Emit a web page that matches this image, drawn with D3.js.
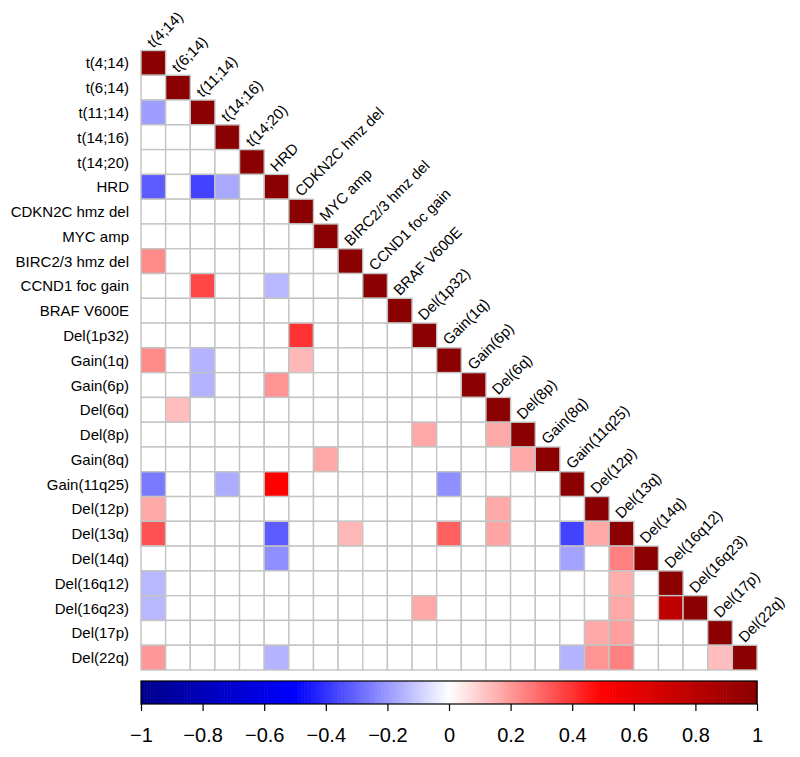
<!DOCTYPE html>
<html>
<head>
<meta charset="utf-8">
<script src="https://cdn.jsdelivr.net/npm/d3@7"></script>
<style>
  html, body { margin: 0; padding: 0; background: #ffffff; }
  svg { display: block; }
  text { font-family: "Liberation Sans", Arial, sans-serif; fill: #000; }
</style>
</head>
<body>
<svg id="chart" width="800" height="757"></svg>
<script>
const labels = [
  "t(4;14)", "t(6;14)", "t(11;14)", "t(14;16)", "t(14;20)", "HRD",
  "CDKN2C hmz del", "MYC amp", "BIRC2/3 hmz del", "CCND1 foc gain", "BRAF V600E",
  "Del(1p32)", "Gain(1q)", "Gain(6p)", "Del(6q)", "Del(8p)", "Gain(8q)",
  "Gain(11q25)", "Del(12p)", "Del(13q)", "Del(14q)", "Del(16q12)", "Del(16q23)",
  "Del(17p)", "Del(22q)"
];

// lower triangle of the correlation matrix (row i has i+1 values)
const corrLower = [
  [1],
  [0, 1],
  [-0.19, 0, 1],
  [0, 0, 0, 1],
  [0, 0, 0, 0, 1],
  [-0.32, 0, -0.37, -0.17, 0, 1],
  [0, 0, 0, 0, 0, 0, 1],
  [0, 0, 0, 0, 0, 0, 0, 1],
  [0.23, 0, 0, 0, 0, 0, 0, 0, 1],
  [0, 0, 0.36, 0, 0, -0.14, 0, 0, 0, 1],
  [0, 0, 0, 0, 0, 0, 0, 0, 0, 0, 1],
  [0, 0, 0, 0, 0, 0, 0.4, 0, 0, 0, 0, 1],
  [0.23, 0, -0.15, 0, 0, 0, 0.14, 0, 0, 0, 0, 0, 1],
  [0, 0, -0.15, 0, 0, 0.21, 0, 0, 0, 0, 0, 0, 0, 1],
  [0, 0.13, 0, 0, 0, 0, 0, 0, 0, 0, 0, 0, 0, 0, 1],
  [0, 0, 0, 0, 0, 0, 0, 0, 0, 0, 0, 0.17, 0, 0, 0.17, 1],
  [0, 0, 0, 0, 0, 0, 0, 0.17, 0, 0, 0, 0, 0, 0, 0, 0.17, 1],
  [-0.26, 0, 0, -0.16, 0, 0.5, 0, 0, 0, 0, 0, 0, -0.22, 0, 0, 0, 0, 1],
  [0.17, 0, 0, 0, 0, 0, 0, 0, 0, 0, 0, 0, 0, 0, 0.17, 0, 0, 0, 1],
  [0.34, 0, 0, 0, 0, -0.32, 0, 0, 0.14, 0, 0, 0, 0.31, 0, 0.18, 0, 0, -0.37, 0.17, 1],
  [0, 0, 0, 0, 0, -0.22, 0, 0, 0, 0, 0, 0, 0, 0, 0, 0, 0, -0.18, 0, 0.25, 1],
  [-0.14, 0, 0, 0, 0, 0, 0, 0, 0, 0, 0, 0, 0, 0, 0, 0, 0, 0, 0, 0.16, 0, 1],
  [-0.14, 0, 0, 0, 0, 0, 0, 0, 0, 0, 0, 0.17, 0, 0, 0, 0, 0, 0, 0, 0.17, 0, 0.77, 1],
  [0, 0, 0, 0, 0, 0, 0, 0, 0, 0, 0, 0, 0, 0, 0, 0, 0, 0, 0.17, 0.19, 0, 0, 0, 1],
  [0.2, 0, 0, 0, 0, -0.15, 0, 0, 0, 0, 0, 0, 0, 0, 0, 0, 0, -0.15, 0.21, 0.25, 0, 0, 0, 0.13, 1]
];

const legendTicks = [-1, -0.8, -0.6, -0.4, -0.2, 0, 0.2, 0.4, 0.6, 0.8, 1];
const paletteStops = [-1, -0.5, 0, 0.5, 1];
const paletteColors = ["#00008B", "#0000FF", "#FFFFFF", "#FF0000", "#8B0000"];

const svg = d3.select("#chart");
const n = labels.length;

const x = d3.scaleBand().domain(d3.range(n)).range([141, 757]);
const y = d3.scaleBand().domain(d3.range(n)).range([50.5, 670]);
const color = d3.scaleLinear().domain(paletteStops).range(paletteColors).clamp(true);

const cells = [];
corrLower.forEach((row, r) => row.forEach((v, c) => cells.push({ r, c, v })));

// cells
svg.append("g")
  .selectAll("rect")
  .data(cells)
  .join("rect")
  .attr("x", d => x(d.c))
  .attr("y", d => y(d.r))
  .attr("width", x.bandwidth())
  .attr("height", y.bandwidth())
  .attr("fill", d => color(d.v))
  .attr("stroke", "#C4C4C4")
  .attr("stroke-width", 1.4);

// row labels
svg.append("g")
  .selectAll("text")
  .data(labels)
  .join("text")
  .attr("x", 129)
  .attr("y", (d, i) => y(i) + y.bandwidth() / 2)
  .attr("text-anchor", "end")
  .attr("dominant-baseline", "central")
  .attr("font-size", 15)
  .text(d => d);

// column labels (diagonal)
svg.append("g")
  .selectAll("text")
  .data(labels)
  .join("text")
  .attr("transform", (d, i) => `translate(${x(i) + x.bandwidth() / 2},${y(i) - 2}) rotate(-45)`)
  .attr("text-anchor", "start")
  .attr("font-size", 15)
  .text(d => d);

// colour legend
const lx = d3.scaleLinear().domain([-1, 1]).range([141, 757]);
const legTop = 681, legBot = 704;
const steps = d3.range(200).map(i => -1 + (i + 0.5) * 2 / 200);
const stepW = (lx(1) - lx(-1)) / 200;
const leg = svg.append("g");
leg.selectAll("rect.step")
  .data(steps)
  .join("rect")
  .attr("class", "step")
  .attr("x", d => lx(d) - stepW / 2)
  .attr("y", legTop)
  .attr("width", stepW + 0.6)
  .attr("height", legBot - legTop)
  .attr("fill", d => color(d));
leg.append("rect")
  .attr("x", lx(-1)).attr("y", legTop)
  .attr("width", lx(1) - lx(-1)).attr("height", legBot - legTop)
  .attr("fill", "none").attr("stroke", "#000").attr("stroke-width", 1.2);

const axis = d3.axisBottom(lx)
  .tickValues(legendTicks)
  .tickFormat(d3.format("~g"))
  .tickSize(7)
  .tickPadding(17);
const ax = svg.append("g").attr("transform", `translate(0,${legBot})`).call(axis);
ax.select(".domain").remove();
ax.selectAll(".tick line").attr("stroke", "#000").attr("stroke-width", 1.2);
ax.selectAll(".tick text")
  .attr("font-size", 20)
  .attr("font-family", "'Liberation Sans', Arial, sans-serif")
  .attr("fill", "#000");
</script>
</body>
</html>
